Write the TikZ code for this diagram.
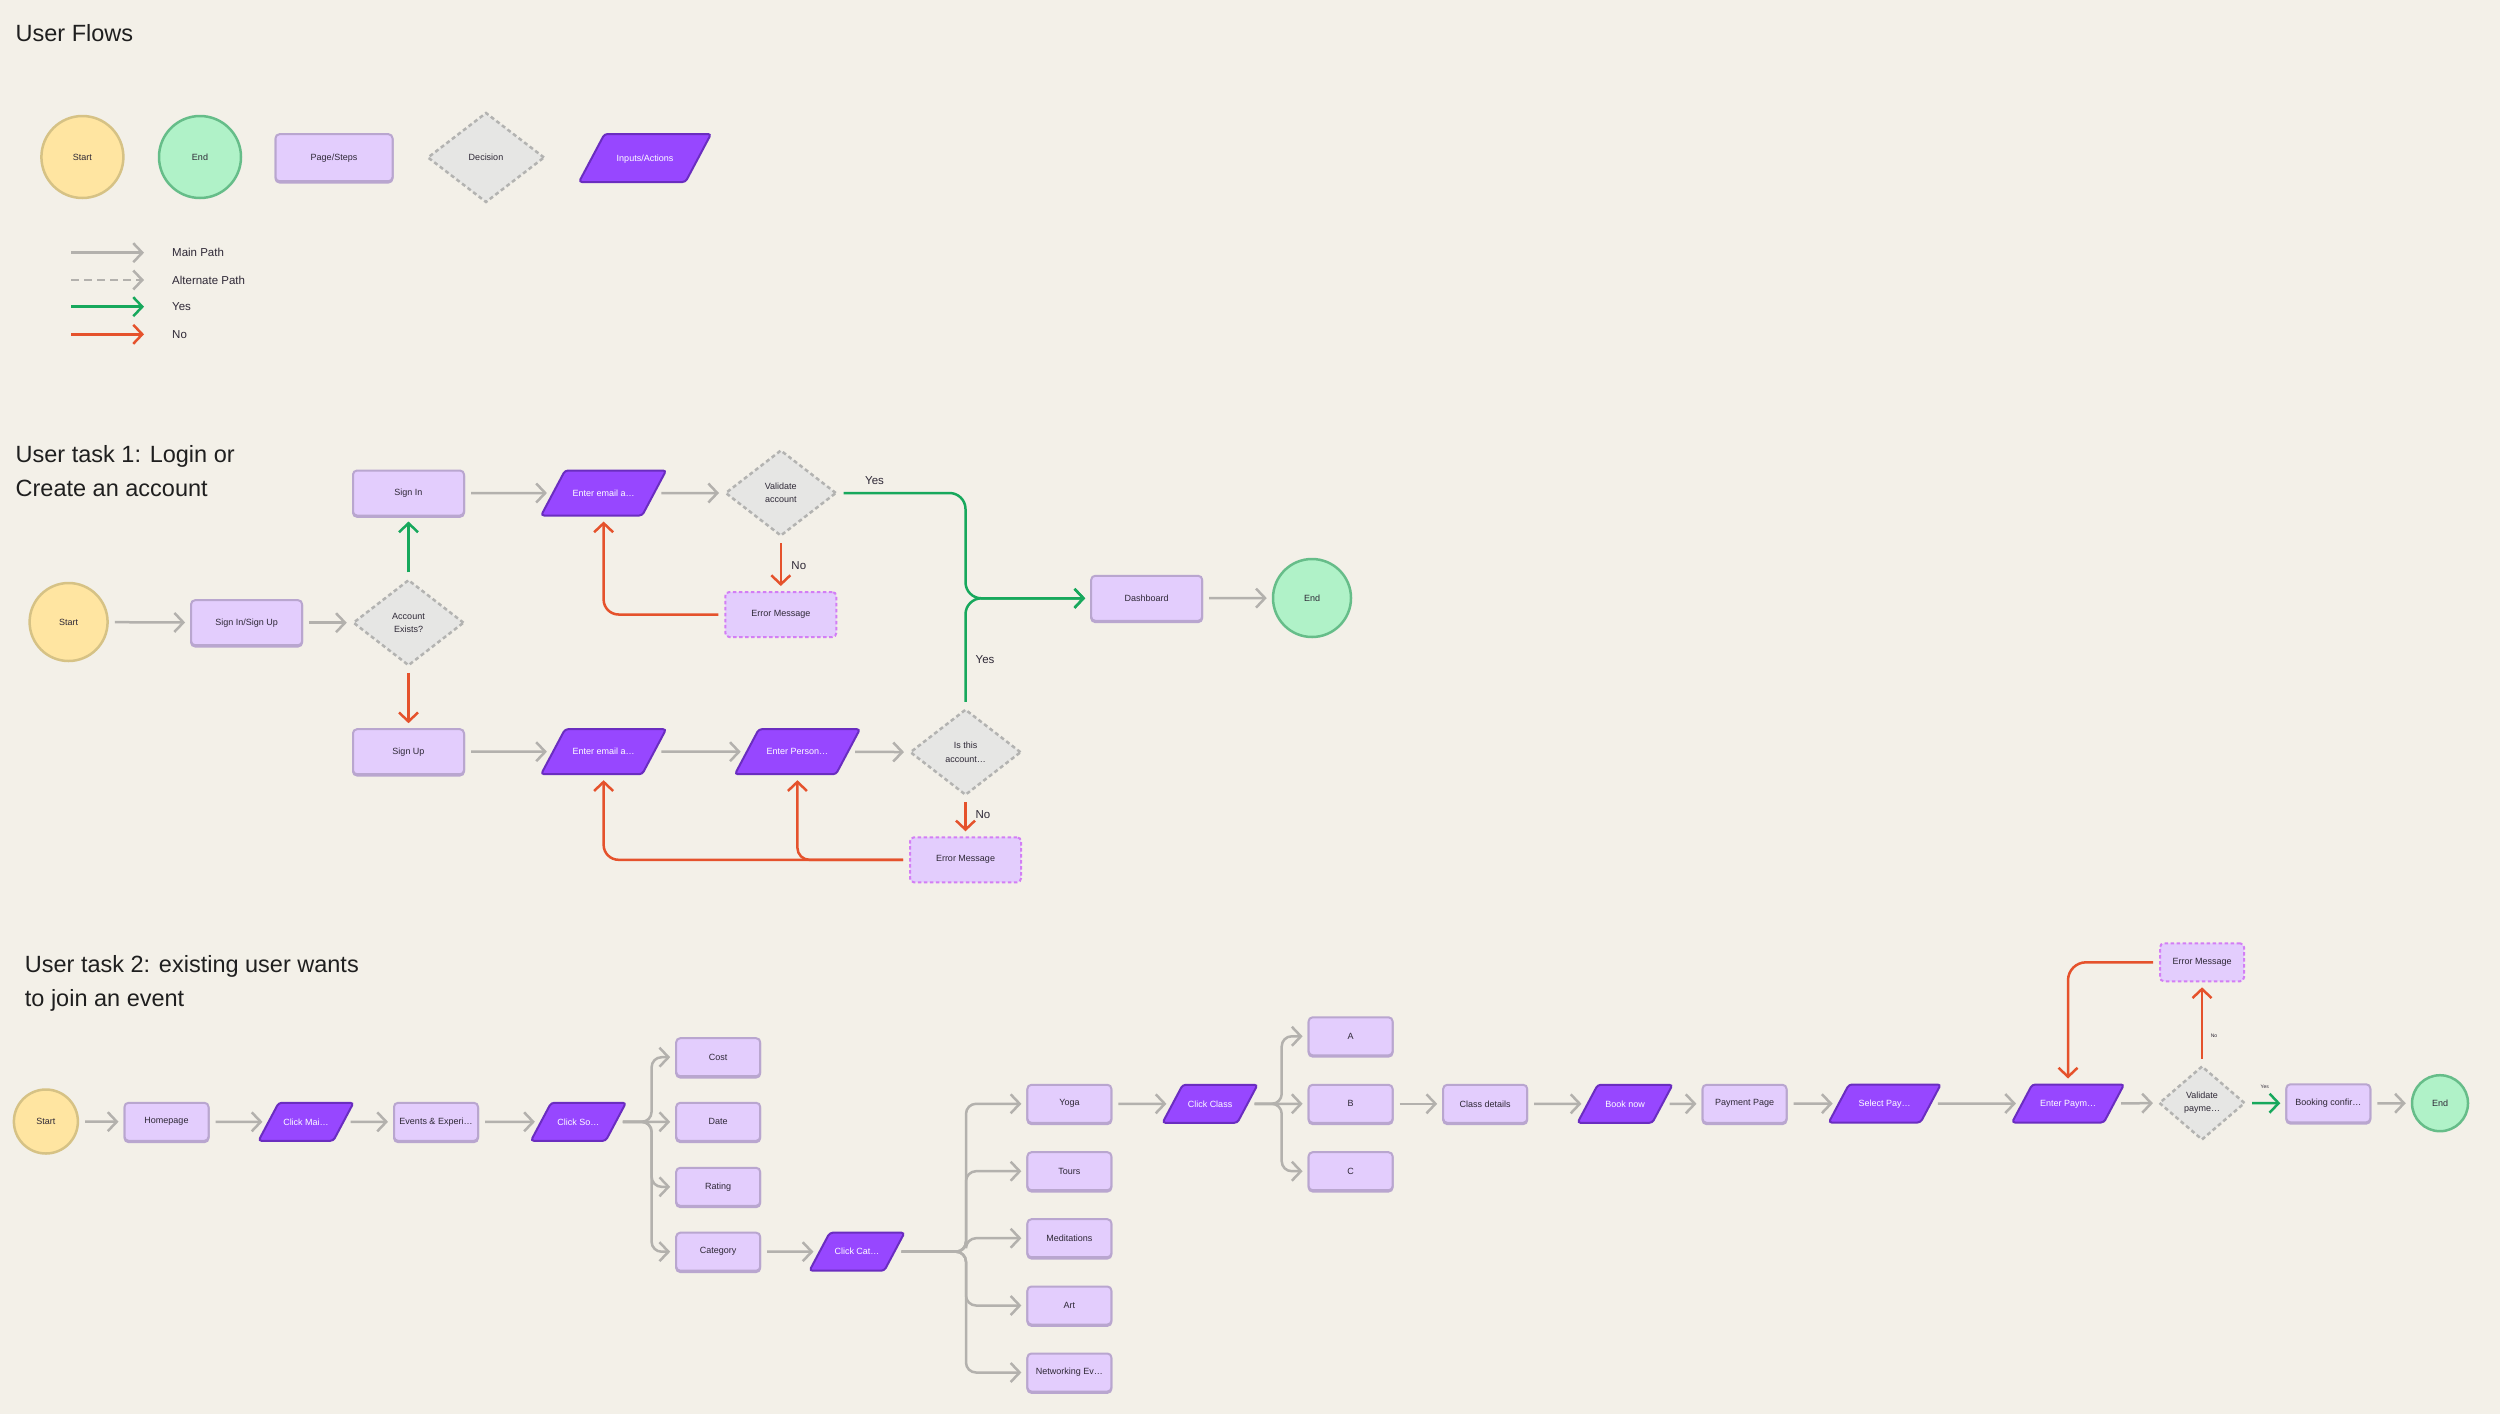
\documentclass[tikz,border=0pt]{standalone}
\usepackage{fontspec}
\setmainfont{Liberation Sans}
\usetikzlibrary{arrows.meta,shapes.geometric}

\definecolor{bgcol}{HTML}{F3F0E8}
\definecolor{startfill}{HTML}{FFE5A1}
\definecolor{startline}{HTML}{D6C285}
\definecolor{endfill}{HTML}{B0F2C8}
\definecolor{endline}{HTML}{66BD89}
\definecolor{pagefill}{HTML}{E3CDFD}
\definecolor{pageline}{HTML}{B9A6CF}
\definecolor{decfill}{HTML}{E6E6E4}
\definecolor{decline}{HTML}{B3B3B1}
\definecolor{inputfill}{HTML}{9747FF}
\definecolor{inputline}{HTML}{6A2DC0}
\definecolor{errline}{HTML}{D37EF5}
\definecolor{flowgray}{HTML}{B3B1AD}
\definecolor{flowgreen}{HTML}{17A85C}
\definecolor{flowred}{HTML}{E5522C}
\definecolor{inktext}{HTML}{2E2836}

\tikzset{
  nodefont/.style={font=\fontsize{9}{13.3}\selectfont, text=inktext, align=center, inner sep=0pt},
  startnode/.style={circle, nodefont, fill=startfill, draw=startline, line width=2.5pt},
  endnode/.style={circle, nodefont, fill=endfill, draw=endline, line width=2.5pt},
  boxbase/.style={rectangle, rounded corners=4pt, nodefont, fill=pagefill, line width=2pt, minimum width=111pt, minimum height=45pt},
  pagebox/.style={boxbase, draw=pageline, preaction={draw=pageline, transform canvas={yshift=-1.3pt}}},
  errbox/.style={boxbase, draw=errline, dash pattern=on 3.5pt off 2.5pt},
  decision/.style={diamond, nodefont, fill=decfill, draw=decline, line width=2.5pt, dash pattern=on 4pt off 3pt, minimum width=111pt, minimum height=86pt},
  inputbox/.style={trapezium, trapezium left angle=62, trapezium right angle=118, trapezium stretches body, rounded corners=3pt, nodefont, text=white, fill=inputfill, draw=inputline, line width=2pt, text height=6.5pt, text depth=0pt, inner xsep=0pt, inner ysep=19.25pt, minimum width=125pt},
  inputsmall/.style={inputbox, inner ysep=15.75pt, minimum width=95pt},
  compact/.style={minimum width=84pt, minimum height=38pt},
  heading/.style={font=\fontsize{23.5}{30}\selectfont, text=black!88, inner sep=0pt, anchor=base west},
  answer/.style={font=\fontsize{11.5}{12}\selectfont, text=inktext, inner sep=0pt},
  tinyanswer/.style={font=\fontsize{5}{6}\selectfont, text=inktext, inner sep=0pt},
  flow/.style={draw=flowgray, line width=2.5pt, shorten <=6pt, shorten >=5pt, -{Straight Barb[length=9pt,width=19pt]}},
  altflow/.style={flow, dash pattern=on 8pt off 5pt},
  yesflow/.style={flow, draw=flowgreen},
  noflow/.style={flow, draw=flowred}
}

\begin{document}
\begin{tikzpicture}[x=1pt,y=-1pt]
\fill[bgcol] (0,0) rectangle (2500,1414);
\useasboundingbox (0,0) rectangle (2500,1414);

% legend
\node[heading] (flowtitle) at (15.5,41) {User Flows};
\node[startnode, minimum size=82pt] (lstart) at (82.4,157) {Start};
\node[endnode, minimum size=82pt] (lend) at (200,157) {End};
\node[pagebox, minimum width=117pt, minimum height=47pt] (lpage) at (334,157.7) {Page/Steps};
\node[decision, minimum width=117pt, minimum height=90pt] (ldecision) at (486,157.5) {Decision};
\node[inputbox, inner ysep=20.75pt, minimum width=132pt] (linput) at (645,158) {Inputs/Actions};
\foreach \lab/\sty/\yy [count=\i] in {Main Path/flow/252.7, Alternate Path/altflow/280, Yes/yesflow/306.7, No/noflow/334.3}{
  \coordinate (leg\i a) at (65,\yy);
  \coordinate (leg\i b) at (149,\yy);
  \draw[\sty] (leg\i a) -- (leg\i b);
  \node[answer, anchor=west] (leglab\i) at (172,\yy) {\lab};
}

% task 1
\node[heading] (task1a) at (15.5,462.3) {User task 1: Login or};
\node[heading] (task1b) at (15.5,496.7) {Create an account};
\node[startnode, minimum size=78pt] (start1) at (68.6,622) {Start};
\node[pagebox] (signinup) at (246.6,622.7) {Sign In/Sign Up};
\node[decision] (accexists) at (408.5,622.7) {Account\\Exists?};
\node[pagebox] (signin) at (408.5,493) {Sign In};
\node[pagebox] (signup) at (408.5,751.7) {Sign Up};
\node[inputbox] (email1) at (603.6,493) {Enter email a…};
\node[decision] (validate) at (780.8,493) {Validate\\account};
\node[errbox] (err1) at (780.8,614.5) {Error Message};
\node[pagebox] (dashboard) at (1146.7,598.3) {Dashboard};
\node[endnode, minimum size=78pt] (end1) at (1312,598) {End};
\node[inputbox] (email2) at (603.6,751.7) {Enter email a…};
\node[inputbox] (person) at (797.4,751.7) {Enter Person…};
\node[decision] (isthis) at (965.5,752.2) {Is this\\account…};
\node[errbox] (err2) at (965.5,859.8) {Error Message};
\coordinate (yesjoin) at (965.5,598.3);

\draw[flow] (start1) -- (signinup);
\draw[flow] (signinup) -- (accexists);
\draw[yesflow] (accexists) -- (signin);
\draw[noflow] (accexists) -- (signup);
\draw[flow] (signin) -- (email1);
\draw[flow] (email1) -- (validate);
\draw[noflow] (validate) -- (err1);
\draw[noflow, rounded corners=15pt] (err1.west) -| (email1.south);
\draw[yesflow, rounded corners=16pt] (validate.east) -| (yesjoin) -- (dashboard.west);
\draw[yesflow, rounded corners=16pt] (isthis.north) -- (yesjoin) -- (dashboard.west);
\draw[flow] (dashboard) -- (end1);
\draw[flow] (signup) -- (email2);
\draw[flow] (email2) -- (person);
\draw[flow] (person) -- (isthis);
\draw[noflow] (isthis) -- (err2);
\draw[noflow, rounded corners=15pt] (err2.west) -| (email2.south);
\draw[noflow, rounded corners=12pt] (err2.west) -| (person.south);
\node[answer] (yes1) at (874.5,481) {Yes};
\node[answer] (no1) at (798.8,566) {No};
\node[answer] (yes2) at (985,659.3) {Yes};
\node[answer] (no2) at (983,814.3) {No};

% task 2
\node[heading] (task2a) at (24.7,972.3) {User task 2: existing user wants};
\node[heading] (task2b) at (24.7,1006.7) {to join an event};
\node[startnode, minimum size=64pt] (start2) at (45.9,1121.5) {Start};
\node[pagebox, compact] (homepage) at (166.5,1121.8) {Homepage};
\node[inputsmall] (clickmain) at (306,1121.8) {Click Mai…};
\node[pagebox, compact] (events) at (436,1121.8) {Events \& Experi…};
\node[inputsmall] (clicksort) at (578.4,1121.8) {Click So…};
\node[pagebox, compact] (cost) at (718.2,1057.2) {Cost};
\node[pagebox, compact] (date) at (718.2,1121.8) {Date};
\node[pagebox, compact] (rating) at (718.2,1186.8) {Rating};
\node[pagebox, compact] (category) at (718.2,1251.7) {Category};
\node[inputsmall] (clickcat) at (857,1251.7) {Click Cat…};
\node[pagebox, compact] (yoga) at (1069.4,1103.8) {Yoga};
\node[pagebox, compact] (tours) at (1069.4,1171.2) {Tours};
\node[pagebox, compact] (medit) at (1069.4,1238.2) {Meditations};
\node[pagebox, compact] (art) at (1069.4,1305.5) {Art};
\node[pagebox, compact] (network) at (1069.4,1372.5) {Networking Ev…};
\node[inputsmall] (clickclass) at (1210,1103.8) {Click Class};
\node[pagebox, compact] (clsA) at (1350.6,1036.3) {A};
\node[pagebox, compact] (clsB) at (1350.6,1103.8) {B};
\node[pagebox, compact] (clsC) at (1350.6,1171.2) {C};
\node[pagebox, compact] (details) at (1485.2,1103.8) {Class details};
\node[inputsmall] (booknow) at (1625,1103.8) {Book now};
\node[pagebox, compact] (payment) at (1744.5,1103.8) {Payment Page};
\node[inputsmall, minimum width=112pt] (selectpay) at (1884.7,1103.5) {Select Pay…};
\node[inputsmall, minimum width=112pt] (enterpay) at (2068,1103.5) {Enter Paym…};
\node[decision, minimum width=86pt, minimum height=74pt] (vpay) at (2202,1103) {Validate\\payme…};
\node[errbox, compact] (err3) at (2202,962.3) {Error Message};
\node[pagebox, compact] (booking) at (2328.3,1103.3) {Booking confir…};
\node[endnode, minimum size=56pt] (end2) at (2440,1103.2) {End};
\coordinate (sotrunk) at (651.6,1121.8);
\coordinate (cattrunk) at (966,1251.7);
\coordinate (classtrunk) at (1281.7,1103.8);

\draw[flow] (start2) -- (homepage);
\draw[flow] (homepage) -- (clickmain);
\draw[flow] (clickmain) -- (events);
\draw[flow] (events) -- (clicksort);
\draw[flow] (clicksort) -- (date);
\foreach \b in {cost,rating,category}{
  \draw[flow, rounded corners=10pt] (clicksort) -- (sotrunk) |- (\b);
}
\draw[flow] (category) -- (clickcat);
\foreach \b in {yoga,tours,medit,art,network}{
  \draw[flow, rounded corners=10pt] (clickcat) -- (cattrunk) |- (\b);
}
\draw[flow] (yoga) -- (clickclass);
\draw[flow] (clickclass) -- (clsB);
\foreach \b in {clsA,clsC}{
  \draw[flow, rounded corners=10pt] (clickclass) -- (classtrunk) |- (\b);
}
\draw[flow] (clsB) -- (details);
\draw[flow] (details) -- (booknow);
\draw[flow] (booknow) -- (payment);
\draw[flow] (payment) -- (selectpay);
\draw[flow] (selectpay) -- (enterpay);
\draw[flow] (enterpay) -- (vpay);
\draw[yesflow] (vpay) -- (booking);
\draw[flow] (booking) -- (end2);
\draw[noflow] (vpay) -- (err3);
\draw[noflow, rounded corners=18pt] (err3.west) -| (enterpay.north);
\node[tinyanswer] (yes3) at (2264.7,1086.7) {Yes};
\node[tinyanswer] (no3) at (2214,1035.7) {No};
\end{tikzpicture}
\end{document}
